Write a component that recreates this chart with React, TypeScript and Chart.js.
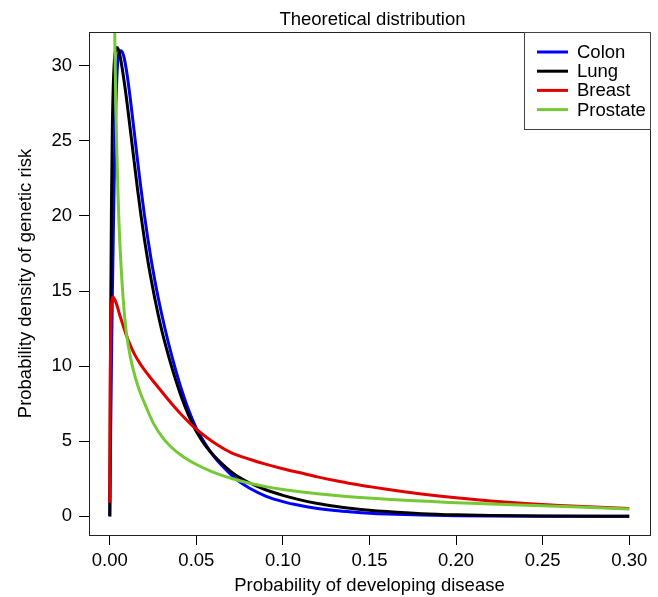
import React, { useEffect, useRef } from 'react';
import { Chart, registerables } from 'chart.js';

Chart.register(...registerables);

const FONT = '"Liberation Sans", Arial, Helvetica, sans-serif';

const TITLE = 'Theoretical distribution';
const X_LABEL = 'Probability of developing disease';
const Y_LABEL = 'Probability density of genetic risk';

const X_TICKS = [0, 0.05, 0.1, 0.15, 0.2, 0.25, 0.3];
const Y_TICKS = [0, 5, 10, 15, 20, 25, 30];

const SERIES_NAMES = ['Colon', 'Lung', 'Breast', 'Prostate'];
const SERIES_COLORS = ['#0000FF', '#000000', '#E00000', '#74C935'];

// Colon (blue)
const colonX = [0, 0.0005, 0.001, 0.0015, 0.002, 0.0025, 0.003, 0.0035, 0.004, 0.0045, 0.005, 0.0058, 0.0065, 0.008, 0.01, 0.012, 0.014, 0.016, 0.018, 0.02, 0.022, 0.024, 0.026, 0.028, 0.03, 0.032, 0.034, 0.036, 0.038, 0.04, 0.042, 0.044, 0.046, 0.048, 0.05, 0.055, 0.06, 0.065, 0.07, 0.075, 0.0808, 0.09, 0.1, 0.11, 0.12, 0.13, 0.14, 0.15, 0.16, 0.18, 0.2, 0.22, 0.25, 0.3];
const colonY = [0, 5.5, 10.5, 14.8, 18.5, 22, 25, 27.3, 29, 30.1, 30.7, 31, 31, 30.66, 29.41, 27.66, 25.71, 23.73, 21.83, 20.07, 18.47, 17.02, 15.71, 14.53, 13.45, 12.44, 11.49, 10.6, 9.76, 8.98, 8.24, 7.56, 6.94, 6.37, 5.86, 4.85, 4.02, 3.35, 2.78, 2.3, 1.87, 1.35, 0.98, 0.72, 0.53, 0.39, 0.29, 0.21, 0.155, 0.085, 0.045, 0.025, 0.01, 0.002];

// Lung (black)
const lungX = [0, 0.0005, 0.001, 0.0015, 0.002, 0.0025, 0.003, 0.0036, 0.0042, 0.005, 0.006, 0.008, 0.01, 0.012, 0.014, 0.016, 0.018, 0.02, 0.022, 0.024, 0.026, 0.028, 0.03, 0.032, 0.034, 0.036, 0.038, 0.04, 0.042, 0.044, 0.046, 0.048, 0.05, 0.055, 0.06, 0.065, 0.07, 0.075, 0.0808, 0.09, 0.1, 0.11, 0.12, 0.13, 0.14, 0.15, 0.16, 0.18, 0.2, 0.22, 0.25, 0.3];
const lungY = [0, 13, 21, 26, 28.6, 30, 30.8, 31.15, 31.2, 31.05, 30.6, 29.2, 27.5, 25.6, 23.7, 21.8, 20.05, 18.45, 17, 15.7, 14.5, 13.4, 12.4, 11.5, 10.65, 9.85, 9.1, 8.4, 7.75, 7.15, 6.6, 6.1, 5.65, 4.75, 4.05, 3.48, 2.98, 2.58, 2.22, 1.77, 1.4, 1.1, 0.86, 0.68, 0.53, 0.41, 0.32, 0.18, 0.1, 0.055, 0.022, 0.005];

// Breast (red)
const breastX = [0, 0.0003, 0.0007, 0.0012, 0.0019, 0.0028, 0.004, 0.0055, 0.0077, 0.0096, 0.012, 0.0145, 0.0173, 0.02, 0.0235, 0.0269, 0.031, 0.0365, 0.042, 0.049, 0.056, 0.063, 0.07, 0.0808, 0.09, 0.1, 0.11, 0.12, 0.13, 0.14, 0.15, 0.16, 0.17, 0.18, 0.19, 0.2, 0.22, 0.24, 0.26, 0.28, 0.3];
const breastY = [0.9, 9, 13, 14.3, 14.6, 14.45, 14.1, 13.5, 12.7, 12.05, 11.35, 10.75, 10.2, 9.75, 9.23, 8.74, 8.16, 7.4, 6.7, 5.9, 5.25, 4.7, 4.25, 3.8, 3.48, 3.17, 2.9, 2.63, 2.39, 2.17, 1.98, 1.8, 1.64, 1.49, 1.36, 1.24, 1.03, 0.86, 0.73, 0.62, 0.53];

// Prostate (green)
const prostateX = [0.0022, 0.0027, 0.003, 0.0035, 0.004, 0.0047, 0.0054, 0.0065, 0.008, 0.0096, 0.012, 0.015, 0.0175, 0.0202, 0.025, 0.03, 0.0356, 0.042, 0.05, 0.06, 0.07, 0.0808, 0.09, 0.1, 0.12, 0.1385, 0.16, 0.18, 0.196, 0.22, 0.25, 0.275, 0.3];
const prostateY = [40, 33.7, 31, 27.4, 24.6, 21.6, 19.3, 16.7, 14.1, 12.2, 10.55, 9.13, 8.26, 7.5, 6.24, 5.33, 4.6, 4.0, 3.45, 2.93, 2.54, 2.2, 1.98, 1.79, 1.5, 1.3, 1.14, 1.02, 0.93, 0.83, 0.71, 0.6, 0.49];

const SERIES_X = [colonX, lungX, breastX, prostateX];
const SERIES_Y = [colonY, lungY, breastY, prostateY];

const TEXT_SIZE = 18.5;

const framePlugin = {
  id: 'rframe',
  afterDatasetsDraw(chart: any) {
    const { ctx, chartArea: a } = chart;
    ctx.save();
    // plot box
    ctx.strokeStyle = '#222';
    ctx.lineWidth = 1;
    ctx.strokeRect(Math.round(a.left) + 0.5, Math.round(a.top) + 0.5, Math.round(a.right - a.left), Math.round(a.bottom - a.top));
    // title
    ctx.fillStyle = '#000';
    ctx.font = `${TEXT_SIZE}px ${FONT}`;
    ctx.textAlign = 'center';
    ctx.textBaseline = 'alphabetic';
    ctx.fillText(TITLE, (a.left + a.right) / 2 + 3, 25);
    // legend
    const lw = 126;
    const lh = 97;
    const lx = Math.round(a.right) - lw;
    const ly = Math.round(a.top);
    ctx.fillStyle = '#fff';
    ctx.fillRect(lx, ly, lw, lh);
    ctx.strokeStyle = '#444';
    ctx.strokeRect(lx + 0.5, ly + 0.5, lw, lh);
    ctx.textAlign = 'left';
    ctx.textBaseline = 'middle';
    SERIES_NAMES.forEach((name, i) => {
      const y = ly + 20 + i * 19.2;
      ctx.strokeStyle = SERIES_COLORS[i];
      ctx.lineWidth = 3;
      ctx.beginPath();
      ctx.moveTo(lx + 13, y);
      ctx.lineTo(lx + 44, y);
      ctx.stroke();
      ctx.fillStyle = '#000';
      ctx.fillText(name, lx + 53, y + 1);
    });
    ctx.restore();
  },
};

export default function App() {
  const ref = useRef<HTMLCanvasElement | null>(null);

  useEffect(() => {
    if (!ref.current) return;
    const datasets = SERIES_NAMES.map((name, i) => ({
      label: name,
      data: SERIES_X[i].map((x, j) => ({ x, y: SERIES_Y[i][j] })),
      borderColor: SERIES_COLORS[i],
      backgroundColor: SERIES_COLORS[i],
      borderWidth: 3,
      pointRadius: 0,
      fill: false,
      cubicInterpolationMode: 'monotone' as const,
      order: SERIES_NAMES.length - i,
    }));

    const chart = new Chart(ref.current, {
      type: 'line',
      data: { datasets },
      plugins: [framePlugin],
      options: {
        responsive: false,
        animation: false,
        devicePixelRatio: 1,
        layout: { padding: { top: 32, right: 8, left: 0, bottom: 0 } },
        plugins: {
          legend: { display: false },
          title: { display: false },
          tooltip: { enabled: false },
        },
        scales: {
          x: {
            type: 'linear',
            min: -0.012,
            max: 0.312,
            afterBuildTicks: (s: any) => {
              s.ticks = X_TICKS.map((v) => ({ value: v }));
            },
            afterFit: (s: any) => {
              s.height = 62;
            },
            ticks: {
              autoSkip: false,
              maxRotation: 0,
              color: '#000',
              padding: 5,
              font: { family: FONT, size: TEXT_SIZE },
              callback: (v: any) => Number(v).toFixed(2),
            },
            grid: { drawOnChartArea: false, drawTicks: true, tickLength: 10, color: '#000', lineWidth: 1 },
            border: { display: false },
            title: {
              display: true,
              text: X_LABEL,
              color: '#000',
              font: { family: FONT, size: TEXT_SIZE },
              padding: { top: 0, bottom: 0 },
            },
          },
          y: {
            type: 'linear',
            min: -1.24,
            max: 32.24,
            afterBuildTicks: (s: any) => {
              s.ticks = Y_TICKS.map((v) => ({ value: v }));
            },
            afterFit: (s: any) => {
              s.width = 89;
            },
            ticks: {
              autoSkip: false,
              color: '#000',
              padding: 7,
              font: { family: FONT, size: TEXT_SIZE },
              callback: (v: any) => String(v),
            },
            grid: { drawOnChartArea: false, drawTicks: true, tickLength: 10, color: '#000', lineWidth: 1 },
            border: { display: false },
            title: {
              display: true,
              text: Y_LABEL,
              color: '#000',
              font: { family: FONT, size: TEXT_SIZE },
              padding: { top: 15, bottom: 0 },
            },
          },
        },
      },
    });
    return () => chart.destroy();
  }, []);

  return (
    <div style={{ position: 'absolute', left: 0, top: 0, width: 658, height: 597, background: '#fff' }}>
      <canvas ref={ref} width={658} height={597} style={{ display: 'block' }} />
    </div>
  );
}
